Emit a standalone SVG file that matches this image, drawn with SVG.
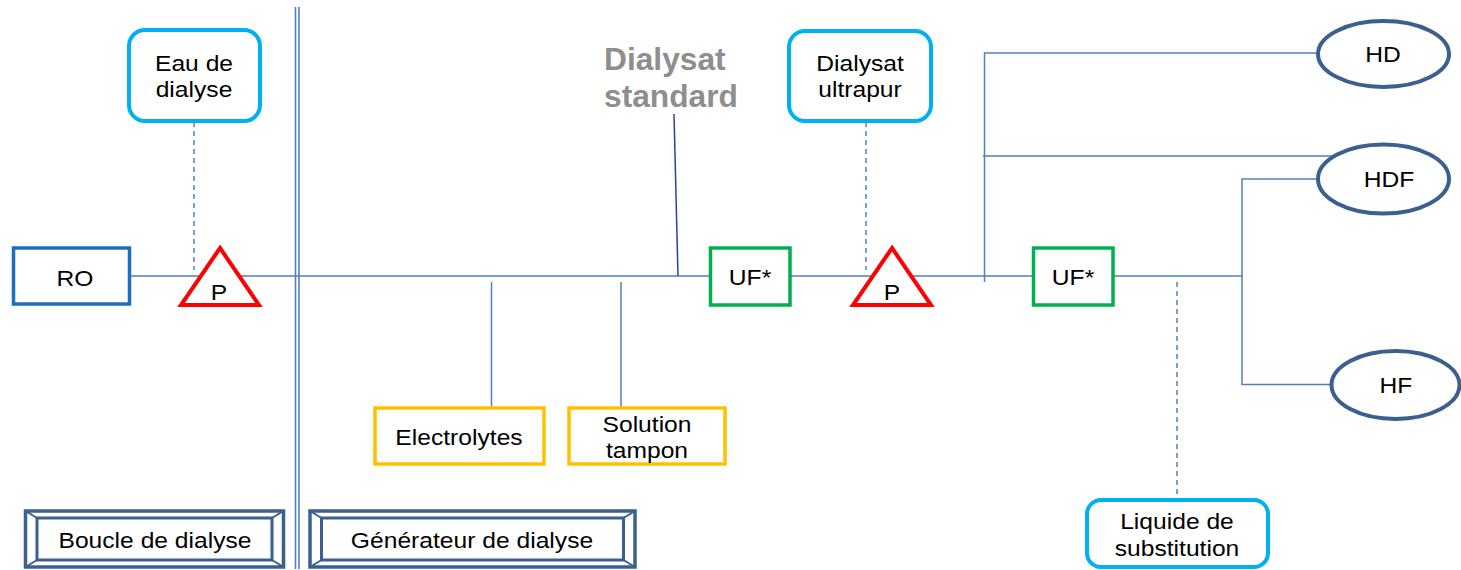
<svg xmlns="http://www.w3.org/2000/svg" width="1461" height="570" viewBox="0 0 1461 570">
  <defs>
    <style>
      .lbl { font-family: "Liberation Sans", Arial, sans-serif; font-size: 22px; fill: #000; text-anchor: middle; }
      .std { font-family: "Liberation Sans", Arial, sans-serif; font-size: 30.5px; font-weight: bold; fill: #8E8E8E; }
      .conn { stroke: #4F81BD; stroke-width: 1.5; fill: none; }
      .dash { stroke: #4F81BD; stroke-width: 1.5; fill: none; stroke-dasharray: 5 4; }
      .lead { stroke: #2E3F9E; stroke-width: 1.5; fill: none; }
      .wall { stroke: #4F7FC0; stroke-width: 1.6; fill: none; }
      .src { fill: #fff; stroke: #00B0F0; stroke-width: 4; }
      .uf { fill: #fff; stroke: #00B050; stroke-width: 3.5; }
      .add { fill: #fff; stroke: #FFC000; stroke-width: 3.5; }
      .pump { fill: #fff; stroke: #FF0000; stroke-width: 4; stroke-linejoin: miter; }
      .mode { fill: #fff; stroke: #3B5F8E; stroke-width: 4; }
      .bevel { fill: #fff; stroke: #3B5F8E; stroke-width: 3.5; }
      .bevel-in { fill: none; stroke: #3B5F8E; stroke-width: 3; }
      .bevel-c { stroke: #3B5F8E; stroke-width: 2; }
    </style>
  </defs>

  <!-- separation between dialysis loop and generator -->
  <g id="separator">
    <line class="wall" x1="295.5" y1="7" x2="295.5" y2="569"/>
    <line class="wall" x1="299" y1="7" x2="299" y2="569"/>
  </g>

  <!-- pipes and branches -->
  <g id="connectors">
    <line class="conn" x1="130" y1="276" x2="710" y2="276"/>
    <line class="conn" x1="791" y1="276" x2="1032" y2="276"/>
    <line class="conn" x1="1114" y1="276" x2="1243" y2="276"/>
    <line class="dash" x1="194" y1="122" x2="194" y2="270"/>
    <line class="dash" x1="866" y1="122" x2="866" y2="270"/>
    <line class="dash" x1="1177" y1="282" x2="1177" y2="499"/>
    <line class="lead" x1="674" y1="114" x2="678" y2="276"/>
    <line class="conn" x1="491.5" y1="282" x2="491.5" y2="407"/>
    <line class="conn" x1="621" y1="282" x2="621" y2="407"/>
    <!-- branch towards HD / HDF (dialysate side) -->
    <polyline class="conn" points="984.5,282 984.5,53 1318,53"/>
    <line class="conn" x1="983" y1="156" x2="1334" y2="156"/>
    <!-- branch towards HDF / HF (substitution side) -->
    <polyline class="conn" points="1318,179 1242,179 1242,384.5 1331,384.5"/>
  </g>

  <g id="ro">
    <rect x="13.5" y="248" width="116" height="56" fill="#fff" stroke="#1F6FBF" stroke-width="3.5"/>
    <text class="lbl" transform="translate(75,286) scale(1.12,1)">RO</text>
  </g>

  <g id="eau-dialyse">
    <rect class="src" x="129" y="30" width="131" height="91" rx="16"/>
    <text class="lbl" transform="translate(194,71) scale(1.12,1)"><tspan x="0" y="0">Eau de</tspan><tspan x="0" y="26">dialyse</tspan></text>
  </g>

  <g id="pompe-1">
    <polygon class="pump" points="220,248 259,305 181,305"/>
    <text class="lbl" transform="translate(219,300) scale(1.12,1)">P</text>
  </g>

  <g id="dialysat-standard">
    <text class="std" transform="translate(604,70) scale(1.04,1)">Dialysat</text>
    <text class="std" transform="translate(604,107) scale(1.04,1)">standard</text>
  </g>

  <g id="uf-1">
    <rect class="uf" x="710.5" y="248" width="79.5" height="57"/>
    <text class="lbl" transform="translate(750,285) scale(1.12,1)">UF*</text>
  </g>

  <g id="dialysat-ultrapur">
    <rect class="src" x="789" y="31" width="142" height="90" rx="16"/>
    <text class="lbl" transform="translate(860,71) scale(1.12,1)"><tspan x="0" y="0">Dialysat</tspan><tspan x="0" y="26">ultrapur</tspan></text>
  </g>

  <g id="pompe-2">
    <polygon class="pump" points="892,248 931,305 853,305"/>
    <text class="lbl" transform="translate(892,300) scale(1.12,1)">P</text>
  </g>

  <g id="uf-2">
    <rect class="uf" x="1033.5" y="248" width="79.5" height="57"/>
    <text class="lbl" transform="translate(1073,285) scale(1.12,1)">UF*</text>
  </g>

  <g id="electrolytes">
    <rect class="add" x="375" y="408" width="169" height="56"/>
    <text class="lbl" transform="translate(459,445) scale(1.12,1)">Electrolytes</text>
  </g>

  <g id="solution-tampon">
    <rect class="add" x="569" y="408" width="156" height="56"/>
    <text class="lbl" transform="translate(647,432) scale(1.12,1)"><tspan x="0" y="0">Solution</tspan><tspan x="0" y="26">tampon</tspan></text>
  </g>

  <g id="liquide-substitution">
    <rect class="src" x="1087" y="500" width="181" height="67" rx="14"/>
    <text class="lbl" transform="translate(1177,529) scale(1.12,1)"><tspan x="0" y="0">Liquide de</tspan><tspan x="0" y="27">substitution</tspan></text>
  </g>

  <g id="hd">
    <ellipse class="mode" cx="1383.5" cy="54" rx="65.5" ry="33"/>
    <text class="lbl" transform="translate(1383,62) scale(1.12,1)">HD</text>
  </g>

  <g id="hdf">
    <ellipse class="mode" cx="1383.5" cy="179" rx="65.5" ry="34.5"/>
    <text class="lbl" transform="translate(1389,187) scale(1.12,1)">HDF</text>
  </g>

  <g id="hf">
    <ellipse class="mode" cx="1395.5" cy="385" rx="64" ry="34"/>
    <text class="lbl" transform="translate(1396,393) scale(1.12,1)">HF</text>
  </g>

  <g id="boucle-dialyse">
    <rect class="bevel" x="25.5" y="511" width="258" height="56"/>
    <rect class="bevel-in" x="37" y="518" width="235" height="42"/>
    <line class="bevel-c" x1="25.5" y1="511" x2="37" y2="518"/>
    <line class="bevel-c" x1="283.5" y1="511" x2="272" y2="518"/>
    <line class="bevel-c" x1="25.5" y1="567" x2="37" y2="560"/>
    <line class="bevel-c" x1="283.5" y1="567" x2="272" y2="560"/>
    <text class="lbl" transform="translate(155,548) scale(1.12,1)">Boucle de dialyse</text>
  </g>

  <g id="generateur-dialyse">
    <rect class="bevel" x="310" y="511" width="325" height="56"/>
    <rect class="bevel-in" x="321.5" y="518" width="302" height="42"/>
    <line class="bevel-c" x1="310" y1="511" x2="321.5" y2="518"/>
    <line class="bevel-c" x1="635" y1="511" x2="623.5" y2="518"/>
    <line class="bevel-c" x1="310" y1="567" x2="321.5" y2="560"/>
    <line class="bevel-c" x1="635" y1="567" x2="623.5" y2="560"/>
    <text class="lbl" transform="translate(472,548) scale(1.12,1)">Générateur de dialyse</text>
  </g>
</svg>
